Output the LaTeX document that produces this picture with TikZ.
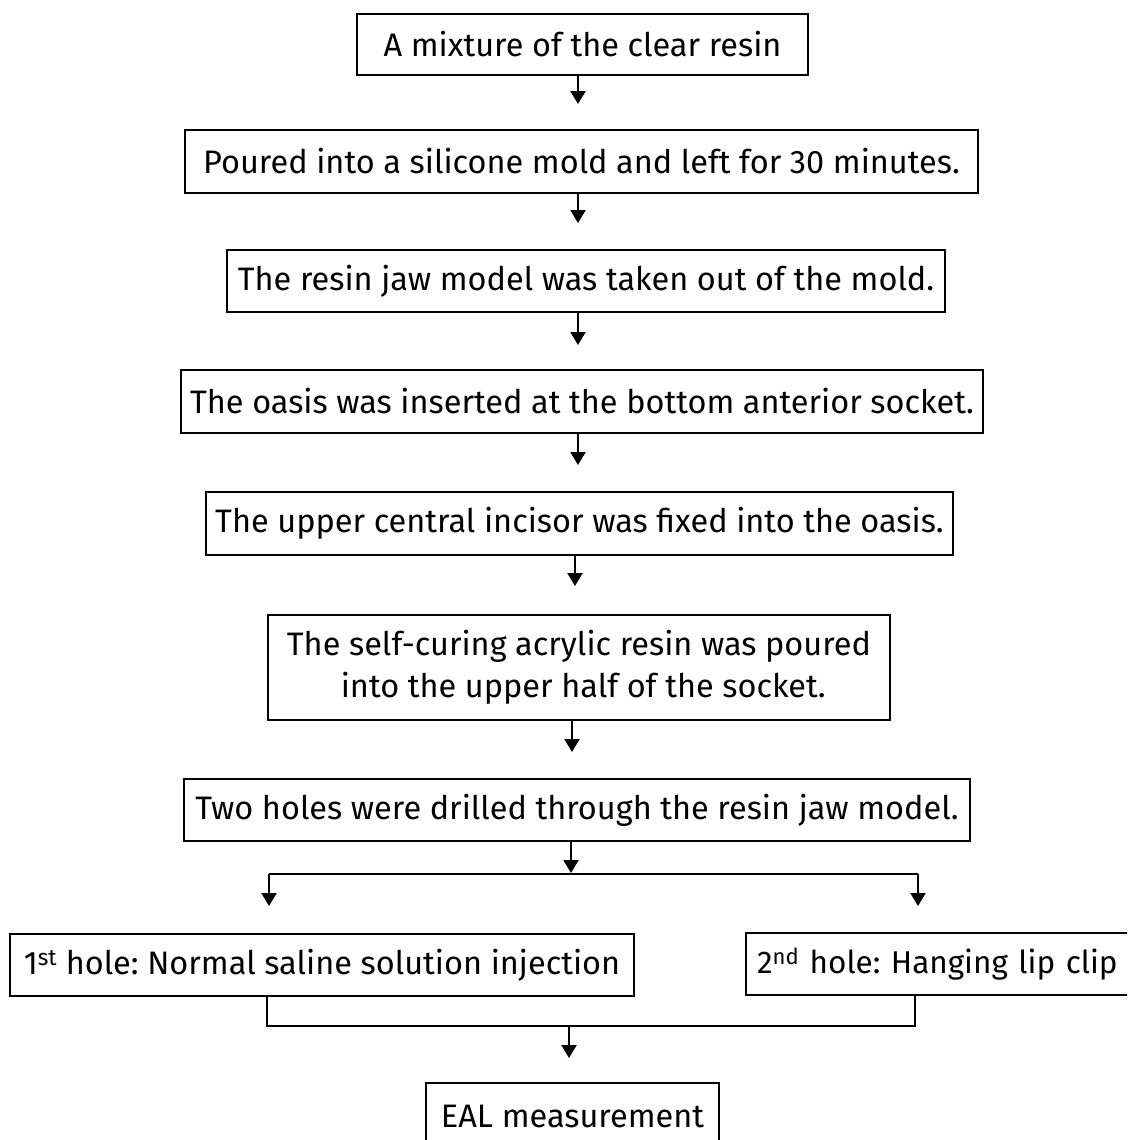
\documentclass[tikz,border=0pt]{standalone}
\usepackage{fontspec}
\setmainfont{Fira Sans}
\frenchspacing
\usetikzlibrary{arrows.meta}
\tikzset{
  stepbox/.style={draw=black, line width=2.4pt, fill=white, inner sep=0pt, align=center,
    font=\fontsize{32.5}{42}\selectfont},
  flow/.style={line width=2.2pt, -{Triangle[width=15pt,length=13pt]}},
  link/.style={line width=2.2pt}
}
\begin{document}
\begin{tikzpicture}[x=1pt,y=-1pt]
\useasboundingbox (0,0) rectangle (1127,1140);
\clip (0,0) rectangle (1127,1140);
\node[stepbox, minimum width=451pt, minimum height=61pt] (b1) at (582.5,44.5) {A mixture of the clear resin};
\node[stepbox, minimum width=793pt, minimum height=63pt] (b2) at (581.5,161.5) {Poured into a silicone mold and left for 30 minutes.};
\node[stepbox, minimum width=718pt, minimum height=62pt] (b3) at (586,281) {The resin jaw model was taken out of the mold.};
\node[stepbox, minimum width=802pt, minimum height=63pt] (b4) at (582,401.5) {The oasis was inserted at the bottom anterior socket.};
\node[stepbox, minimum width=747pt, minimum height=63pt] (b5) at (579.5,523.5) {The upper central incisor was fixed into the oasis.};
\node[stepbox, minimum width=622pt, minimum height=105pt] (b6) at (579,667.5) {The self-curing acrylic resin was poured\\ \ into the upper half of the socket.};
\node[stepbox, minimum width=786pt, minimum height=62pt] (b7) at (577,810) {Two holes were drilled through the resin jaw model.};
\node[stepbox, minimum width=624pt, minimum height=62pt] (b8) at (322,965) {1\textsuperscript{st} hole: Normal saline solution injection};
\node[stepbox, font=\fontsize{31.5}{42}\selectfont, inner xsep=11pt, text width=380pt, align=left, minimum height=62pt] (b9) at (947,964) {\mbox{2\textsuperscript{nd} hole: Hanging lip clip}};
\node[stepbox, minimum width=293pt, minimum height=66pt] (b10) at (572.5,1116) {EAL measurement};

\coordinate (a1) at (578,104);
\coordinate (a2) at (578,223);
\coordinate (a3) at (578,345);
\coordinate (a4) at (578,465);
\coordinate (a5) at (575,586);
\coordinate (a6) at (572,752);
\coordinate (s) at (571,873);
\coordinate (sl) at (269,874);
\coordinate (sr) at (918,874);
\coordinate (tl) at (269,906);
\coordinate (tr) at (918,906);
\coordinate (jl) at (267,1026);
\coordinate (jr) at (915,1026);
\coordinate (jm) at (569,1026);
\coordinate (e) at (569,1058);

\draw[flow] (b1.south -| a1) -- (a1);
\draw[flow] (b2.south -| a2) -- (a2);
\draw[flow] (b3.south -| a3) -- (a3);
\draw[flow] (b4.south -| a4) -- (a4);
\draw[flow] (b5.south -| a5) -- (a5);
\draw[flow] (b6.south -| a6) -- (a6);
\draw[flow] (b7.south -| s) -- (s);
\draw[link] (sl) -- (sr);
\draw[flow] (sl) -- (tl);
\draw[flow] (sr) -- (tr);
\draw[link] (b8.south -| jl) -- (jl) -- (jr) -- (b9.south -| jr);
\draw[flow] (jm) -- (e);
\end{tikzpicture}
\end{document}
